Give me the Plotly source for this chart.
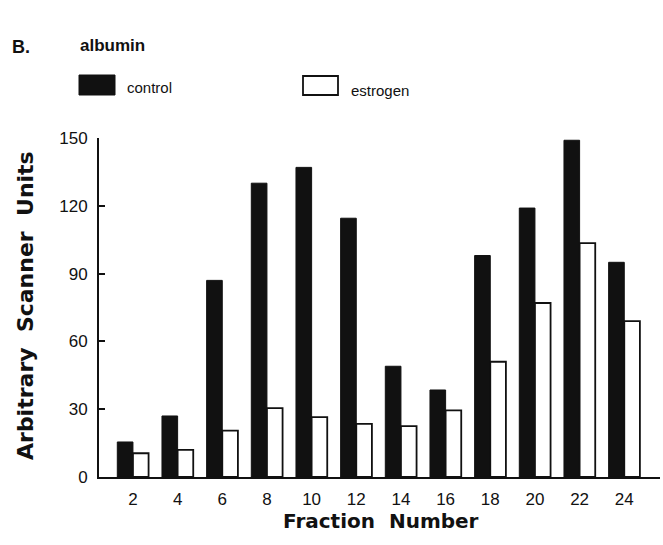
import plotly.graph_objects as go

fractions = ["2", "4", "6", "8", "10", "12", "14", "16", "18", "20", "22", "24"]
control = [15.5, 27, 87, 130, 137, 114.5, 49, 38.5, 98, 119, 149, 95]
estrogen = [10.5, 12, 20.5, 30.5, 26.5, 23.5, 22.5, 29.5, 51, 77, 103.5, 69]
y_ticks = [0, 30, 60, 90, 120, 150]

W, H = 663, 545
L, R, T, B = 99, 3, 138, 68
PW, PH = W - L - R, H - T - B

def px(x):
    return (x - L) / PW

def py(y):
    return (H - B - y) / PH

FONT = "Liberation Sans, Arial, Helvetica, sans-serif"
BOLD = "DejaVu Sans, Liberation Sans, Arial, sans-serif"
SP = "\u00a0\u00a0"

fig = go.Figure()
fig.add_trace(go.Bar(x=fractions, y=control, name="control",
                     marker=dict(color="#111111", line=dict(color="#111111", width=1))))
fig.add_trace(go.Bar(x=fractions, y=estrogen, name="estrogen",
                     marker=dict(color="white", line=dict(color="#111111", width=1.8))))

fig.update_layout(
    width=W, height=H,
    margin=dict(l=L, r=R, t=T, b=B),
    paper_bgcolor="white", plot_bgcolor="white",
    barmode="group", bargap=0.3, bargroupgap=0.0,
    showlegend=False,
    font=dict(family=FONT, color="#111111"),
)
fig.update_xaxes(
    range=[-0.76, 11.8], showline=True, linecolor="#111111", linewidth=2,
    ticks="outside", ticklen=6, tickcolor="rgba(0,0,0,0)", showgrid=False,
    tickfont=dict(size=17),
)
fig.update_yaxes(
    range=[0, 150], tickvals=y_ticks, showline=True, linecolor="#111111", linewidth=2,
    ticks="inside", ticklen=6, tickwidth=2, tickcolor="#111111", showgrid=False,
    zeroline=False, tickfont=dict(size=17), ticklabelstandoff=6,
)

# Axis titles
fig.add_annotation(xref="paper", yref="paper", x=px(381), y=py(521),
                   text="<b>Fraction" + SP + "Number</b>", showarrow=False,
                   xanchor="center", yanchor="middle", font=dict(size=20, family=BOLD))
fig.add_annotation(xref="paper", yref="paper", x=px(25), y=py(306),
                   text="<b>Arbitrary" + SP + "Scanner" + SP + "Units</b>", showarrow=False,
                   textangle=-90, xanchor="center", yanchor="middle", font=dict(size=22, family=BOLD))

# Panel label and title
fig.add_annotation(xref="paper", yref="paper", x=px(10), y=py(47), text="<b>B.</b>",
                   showarrow=False, xanchor="left", yanchor="middle", font=dict(size=18))
fig.add_annotation(xref="paper", yref="paper", x=px(78), y=py(46), text="<b>albumin</b>",
                   showarrow=False, xanchor="left", yanchor="middle", font=dict(size=17))

# Legend drawn manually
fig.add_shape(type="rect", xref="paper", yref="paper", x0=px(79), x1=px(115), y0=py(95), y1=py(75),
              fillcolor="#111111", line=dict(color="#111111", width=1))
fig.add_annotation(xref="paper", yref="paper", x=px(125), y=py(88), text="control",
                   showarrow=False, xanchor="left", yanchor="middle", font=dict(size=15))
fig.add_shape(type="rect", xref="paper", yref="paper", x0=px(303), x1=px(338), y0=py(95), y1=py(76),
              fillcolor="white", line=dict(color="#111111", width=1.8))
fig.add_annotation(xref="paper", yref="paper", x=px(349), y=py(90), text="estrogen",
                   showarrow=False, xanchor="left", yanchor="middle", font=dict(size=15))

fig.write_html("out.html")
